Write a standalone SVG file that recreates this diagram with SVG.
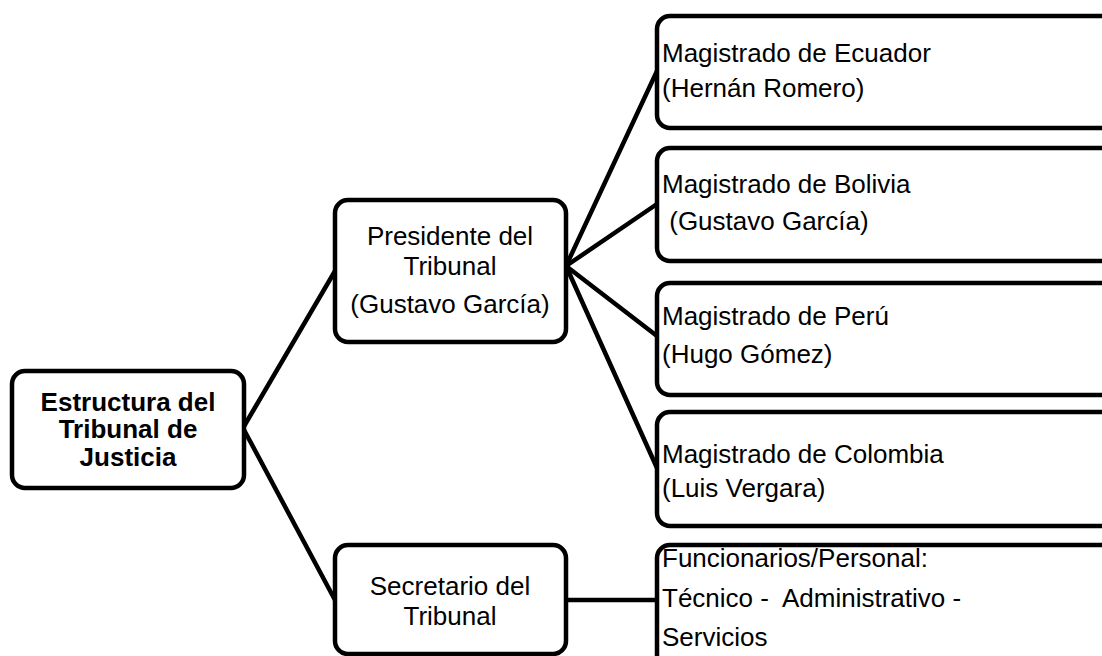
<svg xmlns="http://www.w3.org/2000/svg" width="1102" height="656" viewBox="0 0 1102 656">
  <style>
    .box { fill: #ffffff; stroke: #000000; stroke-width: 4.5; }
    .lnk { stroke: #000000; stroke-width: 4.5; fill: none; stroke-linecap: round; }
    .t { font-family: "Liberation Sans", Arial, sans-serif; font-size: 26px; fill: #000000; white-space: pre; }
    .c { text-anchor: middle; }
    .b { font-weight: bold; }
  </style>
  <rect width="1102" height="656" fill="#ffffff"/>
  <g id="connectors">
    <line class="lnk" x1="243" y1="428" x2="335" y2="271"/>
    <line class="lnk" x1="243" y1="428" x2="335" y2="600"/>
    <line class="lnk" x1="566" y1="266" x2="657" y2="71"/>
    <line class="lnk" x1="566" y1="266" x2="657" y2="204"/>
    <line class="lnk" x1="566" y1="266" x2="657" y2="336"/>
    <line class="lnk" x1="566" y1="266" x2="657" y2="468"/>
    <line class="lnk" x1="566" y1="600" x2="657" y2="600"/>
  </g>
  <g id="root">
    <rect class="box" x="12" y="371" width="232" height="117" rx="13"/>
    <text class="t c b" x="128" y="411">Estructura del</text>
    <text class="t c b" x="128" y="438">Tribunal de</text>
    <text class="t c b" x="128" y="466">Justicia</text>
  </g>
  <g id="presidente">
    <rect class="box" x="335" y="200" width="231" height="142" rx="13"/>
    <text class="t c" x="450" y="245">Presidente del</text>
    <text class="t c" x="450" y="275">Tribunal</text>
    <text class="t c" x="450" y="313">(Gustavo García)</text>
  </g>
  <g id="secretario">
    <rect class="box" x="335" y="545" width="231" height="109" rx="13"/>
    <text class="t c" x="450" y="595">Secretario del</text>
    <text class="t c" x="450" y="625">Tribunal</text>
  </g>
  <g id="ecuador">
    <rect class="box" x="657" y="16" width="480" height="112" rx="13"/>
    <text class="t" x="662" y="62">Magistrado de Ecuador</text>
    <text class="t" x="662" y="97">(Hernán Romero)</text>
  </g>
  <g id="bolivia">
    <rect class="box" x="657" y="148" width="480" height="113" rx="13"/>
    <text class="t" x="662" y="193">Magistrado de Bolivia</text>
    <text class="t" x="662" y="230" xml:space="preserve"> (Gustavo García)</text>
  </g>
  <g id="peru">
    <rect class="box" x="657" y="283" width="480" height="112" rx="13"/>
    <text class="t" x="662" y="325">Magistrado de Perú</text>
    <text class="t" x="662" y="363">(Hugo Gómez)</text>
  </g>
  <g id="colombia">
    <rect class="box" x="657" y="412" width="480" height="114" rx="13"/>
    <text class="t" x="662" y="463">Magistrado de Colombia</text>
    <text class="t" x="662" y="497">(Luis Vergara)</text>
  </g>
  <g id="funcionarios">
    <rect class="box" x="657" y="545" width="480" height="130" rx="13"/>
    <text class="t" x="662" y="567">Funcionarios/Personal:</text>
    <text class="t" x="662" y="607" xml:space="preserve">Técnico -  Administrativo -</text>
    <text class="t" x="662" y="646">Servicios</text>
  </g>
</svg>
